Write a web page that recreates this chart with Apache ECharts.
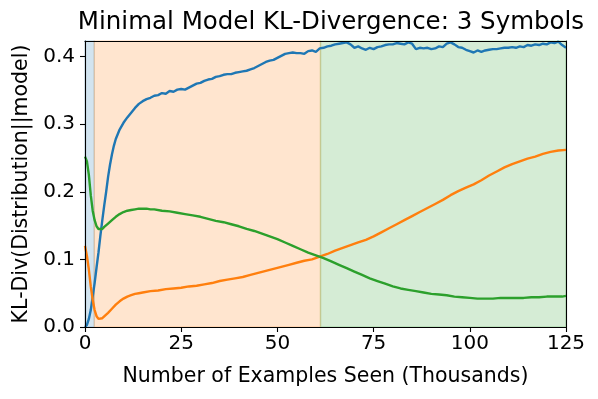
<!DOCTYPE html>
<html>
<head>
<meta charset="utf-8">
<script src="https://cdn.jsdelivr.net/npm/echarts@6/dist/echarts.min.js"></script>
<style>
	html, body { margin: 0; padding: 0; background: #fff; }
	#chart { width: 598px; height: 399px; }
</style>
</head>
<body>
<div id="chart"></div>
<script>
// tick labels
var xTicks = [0, 25, 50, 75, 100, 125];
var yTicks = [0, 0.1, 0.2, 0.3, 0.4];

// shaded phases (thousands of examples)
var phaseEdges = [0, 2.4, 61.2, 125];
var phaseColors = ['31,119,180', '255,127,14', '44,160,44'];

// KL-divergence curves, [thousands, value]
var blueData = [
	[0,0.0],[0.5,0.003],[1,0.012],[1.5,0.025],[2,0.045],[2.5,0.065],[3,0.088],[3.5,0.11],[4,0.135],[4.5,0.158],
	[5,0.18],[5.5,0.2],[6,0.222],[6.5,0.24],[7,0.255],[7.5,0.268],[8,0.278],[9,0.292],[10,0.302],[11,0.31],
	[12,0.317],[13,0.324],[14,0.33],[15,0.334],[16,0.337],[17,0.339],[18,0.342],[19,0.343],[20,0.346],[21,0.345],
	[22,0.349],[23,0.348],[24,0.351],[25,0.352],[26,0.351],[27,0.354],[28,0.357],[29,0.36],[30,0.361],[31,0.364],
	[32,0.366],[33,0.367],[34,0.37],[35,0.371],[36,0.373],[37,0.374],[38,0.374],[39,0.376],[40,0.377],[41,0.378],
	[42,0.379],[43,0.381],[44,0.383],[45,0.386],[46,0.389],[47,0.392],[48,0.394],[49,0.395],[50,0.398],[51,0.401],
	[52,0.404],[53,0.405],[54,0.406],[55,0.405],[56,0.405],[57,0.404],[58,0.408],[59,0.409],[60,0.407],[61,0.412],
	[62,0.413],[63,0.415],[64,0.416],[65,0.418],[66,0.419],[67,0.42],[68,0.421],[69,0.418],[70,0.413],[71,0.415],
	[72,0.412],[73,0.41],[74,0.413],[75,0.411],[76,0.414],[77,0.415],[78,0.417],[79,0.418],[80,0.418],[81,0.42],
	[82,0.419],[83,0.418],[84,0.421],[85,0.419],[86,0.411],[87,0.413],[88,0.412],[89,0.413],[90,0.411],[91,0.412],
	[92,0.415],[93,0.414],[94,0.419],[95,0.421],[96,0.418],[97,0.414],[98,0.413],[99,0.41],[100,0.408],[101,0.406],
	[102,0.409],[103,0.407],[104,0.409],[105,0.41],[106,0.411],[107,0.411],[108,0.412],[109,0.413],[110,0.413],[111,0.414],
	[112,0.413],[113,0.415],[114,0.414],[115,0.417],[116,0.416],[117,0.418],[118,0.417],[119,0.419],[120,0.418],[121,0.421],
	[122,0.42],[123,0.422],[124,0.417],[125,0.413]
];
var orangeData = [
	[0,0.12],[0.5,0.105],[1,0.085],[1.5,0.06],[2,0.04],[2.5,0.025],[3,0.016],[3.5,0.012],[4,0.012],[4.5,0.013],
	[5,0.015],[6,0.021],[7,0.027],[8,0.033],[9,0.038],[10,0.042],[11,0.045],[12,0.047],[13,0.049],[14,0.05],
	[15,0.051],[17,0.053],[19,0.054],[21,0.056],[23,0.057],[25,0.058],[27,0.06],[29,0.061],[31,0.063],[33,0.065],
	[35,0.068],[37,0.07],[39,0.072],[41,0.074],[43,0.077],[45,0.08],[47,0.083],[49,0.086],[51,0.089],[53,0.092],
	[55,0.095],[57,0.098],[59,0.1],[61,0.104],[63,0.108],[65,0.113],[67,0.117],[69,0.121],[71,0.125],[73,0.129],
	[75,0.134],[77,0.14],[79,0.146],[81,0.152],[83,0.158],[85,0.164],[87,0.17],[89,0.176],[91,0.182],[93,0.188],
	[95,0.195],[97,0.201],[99,0.206],[101,0.211],[103,0.217],[105,0.224],[107,0.23],[109,0.236],[111,0.241],[113,0.245],
	[115,0.249],[117,0.252],[119,0.256],[121,0.259],[123,0.261],[125,0.262]
];
var greenData = [
	[0,0.252],[0.5,0.245],[1,0.225],[1.5,0.195],[2,0.172],[2.5,0.158],[3,0.149],[3.5,0.145],[4,0.144],[4.5,0.145],
	[5,0.148],[6,0.153],[7,0.158],[8,0.163],[9,0.167],[10,0.17],[11,0.172],[12,0.173],[13,0.174],[14,0.175],
	[15,0.175],[16,0.175],[17,0.174],[18,0.174],[20,0.172],[22,0.171],[24,0.169],[26,0.167],[28,0.165],[30,0.163],
	[32,0.16],[34,0.157],[36,0.155],[38,0.152],[40,0.149],[42,0.145],[44,0.142],[46,0.138],[48,0.134],[50,0.13],
	[52,0.125],[54,0.12],[56,0.115],[58,0.11],[60,0.106],[62,0.102],[64,0.097],[66,0.092],[68,0.087],[70,0.082],
	[72,0.077],[74,0.072],[76,0.068],[78,0.064],[80,0.06],[82,0.057],[84,0.055],[86,0.053],[88,0.051],[90,0.049],
	[92,0.048],[94,0.047],[96,0.045],[98,0.044],[100,0.043],[102,0.042],[104,0.042],[106,0.042],[108,0.043],[110,0.043],
	[112,0.043],[114,0.043],[116,0.044],[118,0.044],[120,0.045],[122,0.045],[124,0.045],[125,0.046]
];

var font = 'DejaVu Sans';
var chart = echarts.init(document.getElementById('chart'), null, {renderer: 'canvas'});

// background spans like axvspan
var spans = [];
for (var i = 0; i < phaseColors.length; i++) {
	spans.push([{
		xAxis: phaseEdges[i],
		itemStyle: {
			color: 'rgba(' + phaseColors[i] + ',0.2)',
			borderColor: 'rgba(' + phaseColors[i] + ',0.2)',
			borderWidth: 1.4
		}
	}, {xAxis: phaseEdges[i + 1]}]);
}

function lineSeries(data, color, extra) {
	var s = {
		type: 'line',
		data: data,
		showSymbol: false,
		symbol: 'none',
		animation: false,
		silent: true,
		lineStyle: {color: color, width: 2.4},
		z: 3
	};
	if (extra) s.markArea = extra;
	return s;
}

var option = {
	animation: false,
	title: {
		text: 'Minimal Model KL-Divergence: 3 Symbols',
		left: 326,
		top: 5,
		textAlign: 'center',
		textStyle: {fontFamily: font, fontSize: 24.5, fontWeight: 'normal', color: '#000'}
	},
	grid: {left: 85, right: 32, top: 41, bottom: 72},
	xAxis: [{
		type: 'value',
		min: 0,
		max: 125,
		interval: 25,
		name: 'Number of Examples Seen (Thousands)',
		nameLocation: 'middle',
		nameGap: 39,
		nameTextStyle: {fontFamily: font, fontSize: 20.5, color: '#000'},
		axisLine: {show: true, onZero: false, lineStyle: {color: '#000', width: 1.1}},
		axisTick: {show: true, inside: false, length: 5, lineStyle: {color: '#000', width: 1.1}},
		axisLabel: {fontFamily: font, fontSize: 20, color: '#000', margin: 7},
		splitLine: {show: false},
		z: 10
	}, {
		type: 'value',
		position: 'top',
		min: 0,
		max: 125,
		axisLine: {show: true, onZero: false, lineStyle: {color: '#000', width: 1.1}},
		axisTick: {show: false},
		axisLabel: {show: false},
		splitLine: {show: false},
		z: 10
	}],
	yAxis: [{
		type: 'value',
		min: 0,
		max: 0.423,
		name: 'KL-Div(Distribution||model)',
		nameLocation: 'middle',
		nameGap: 51,
		nameTextStyle: {fontFamily: font, fontSize: 20.5, color: '#000'},
		axisLine: {show: true, onZero: false, lineStyle: {color: '#000', width: 1.1}},
		axisTick: {show: true, inside: false, length: 5, customValues: yTicks, lineStyle: {color: '#000', width: 1.1}},
		axisLabel: {
			fontFamily: font, fontSize: 20, color: '#000', margin: 10,
			customValues: yTicks,
			formatter: function (v) { return v.toFixed(1); }
		},
		splitLine: {show: false},
		z: 10
	}, {
		type: 'value',
		position: 'right',
		min: 0,
		max: 0.423,
		axisLine: {show: true, onZero: false, lineStyle: {color: '#000', width: 1.1}},
		axisTick: {show: false},
		axisLabel: {show: false},
		splitLine: {show: false},
		z: 10
	}],
	series: [
		lineSeries(blueData, '#1f77b4', {silent: true, z: 1, data: spans}),
		lineSeries(orangeData, '#ff7f0e'),
		lineSeries(greenData, '#2ca02c')
	]
};

chart.setOption(option);
</script>
</body>
</html>
